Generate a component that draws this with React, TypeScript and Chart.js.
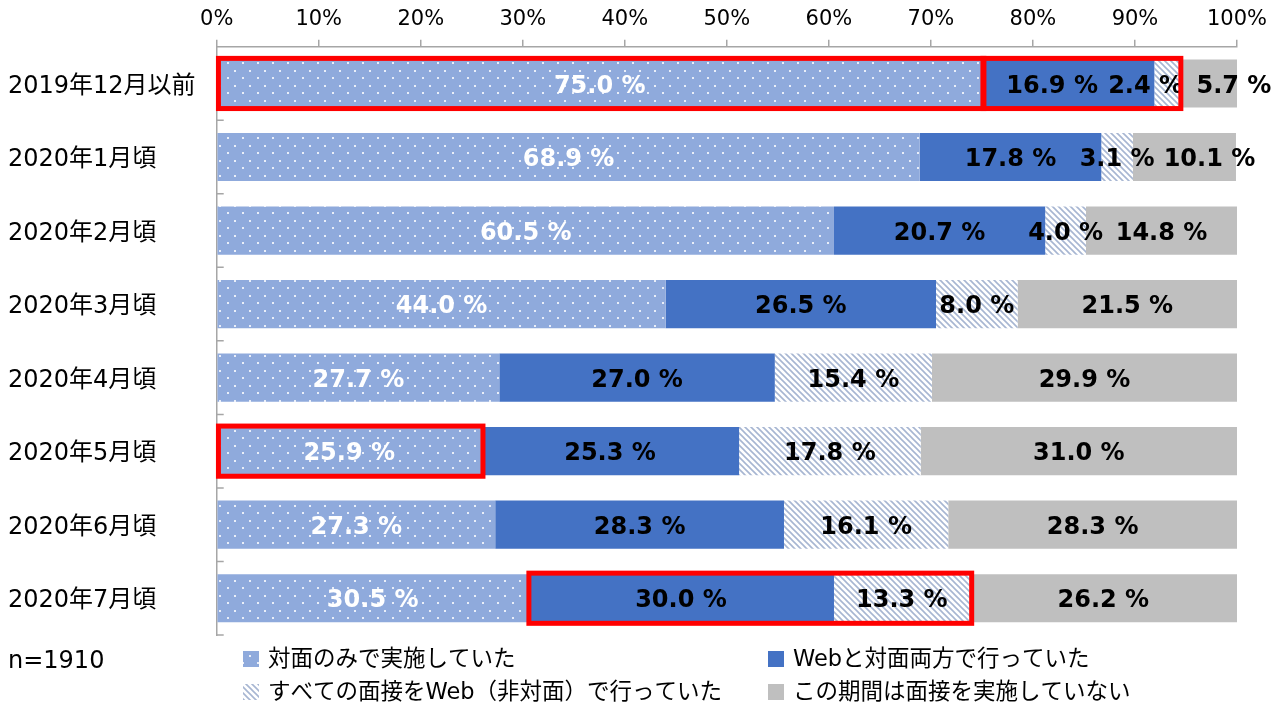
import React, { useEffect, useRef } from 'react';
import { Chart, registerables } from 'chart.js';

Chart.register(...registerables);

// ---- data ----
const categories = [
  '2019年12月以前',
  '2020年1月頃',
  '2020年2月頃',
  '2020年3月頃',
  '2020年4月頃',
  '2020年5月頃',
  '2020年6月頃',
  '2020年7月頃',
];
const faceOnly = [75.0, 68.9, 60.5, 44.0, 27.7, 25.9, 27.3, 30.5];
const webAndFace = [16.9, 17.8, 20.7, 26.5, 27.0, 25.3, 28.3, 30.0];
const webOnly = [2.4, 3.1, 4.0, 8.0, 15.4, 17.8, 16.1, 13.3];
const noInterview = [5.7, 10.1, 14.8, 21.5, 29.9, 31.0, 28.3, 26.2];
const seriesNames = [
  '対面のみで実施していた',
  'Webと対面両方で行っていた',
  'すべての面接をWeb（非対面）で行っていた',
  'この期間は面接を実施していない',
];
const xTickValues = [0, 10, 20, 30, 40, 50, 60, 70, 80, 90, 100];
const sampleNote = 'n=1910';
// highlighted (red box) groups: row index, first dataset, last dataset
const highlightRows = [0, 0, 5, 7];
const highlightFrom = [0, 1, 0, 1];
const highlightTo = [0, 2, 0, 2];

const FONT = '"DejaVu Sans", "Noto Sans CJK JP", sans-serif';
const LEGEND_FONT = '"DejaVu Sans", "Noto Sans CJK JP", sans-serif';

function makeDotPattern(): CanvasPattern | string {
  const c = document.createElement('canvas');
  c.width = 15;
  c.height = 15;
  const g = c.getContext('2d');
  if (!g) return '#8FAADC';
  g.fillStyle = '#8FAADC';
  g.fillRect(0, 0, 15, 15);
  g.fillStyle = 'rgba(255,255,255,0.8)';
  g.fillRect(2, 2, 2, 2);
  g.fillRect(9, 10, 2, 2);
  const p = g.createPattern(c, 'repeat');
  return p || '#8FAADC';
}

function makeHatchPattern(): CanvasPattern | string {
  const s = 6;
  const c = document.createElement('canvas');
  c.width = s;
  c.height = s;
  const g = c.getContext('2d');
  if (!g) return '#C9D3E6';
  g.fillStyle = '#FFFFFF';
  g.fillRect(0, 0, s, s);
  g.strokeStyle = '#A7B6D2';
  g.lineWidth = 1.6;
  g.beginPath();
  g.moveTo(-1, -1);
  g.lineTo(s + 1, s + 1);
  g.moveTo(-s / 2 - 1, s / 2 - 1);
  g.lineTo(s / 2 + 1, s * 1.5 + 1);
  g.moveTo(s / 2 - 1, -s / 2 - 1);
  g.lineTo(s * 1.5 + 1, s / 2 + 1);
  g.stroke();
  const p = g.createPattern(c, 'repeat');
  return p || '#C9D3E6';
}

// label offsets (px) for crowded labels: "dataset-row"
const labelShift: Record<string, number> = { '1-0': -16, '2-0': -21, '3-0': 26, '3-1': 25 };

const valueLabelPlugin = {
  id: 'valueLabels',
  afterDatasetsDraw(chart: any) {
    const ctx = chart.ctx;
    ctx.save();
    ctx.font = 'bold 24px ' + FONT;
    ctx.textAlign = 'center';
    ctx.textBaseline = 'middle';
    chart.data.datasets.forEach((ds: any, di: number) => {
      const meta = chart.getDatasetMeta(di);
      meta.data.forEach((bar: any, i: number) => {
        const v = ds.data[i];
        const cx = (bar.x + bar.base) / 2 + (labelShift[di + '-' + i] || 0);
        ctx.fillStyle = di === 0 ? '#FFFFFF' : '#000000';
        ctx.fillText(v.toFixed(1) + ' %', cx, bar.y + 3);
      });
    });
    ctx.restore();
  },
};

const highlightPlugin = {
  id: 'highlights',
  afterDraw(chart: any) {
    const ctx = chart.ctx;
    ctx.save();
    ctx.strokeStyle = '#FF0000';
    ctx.lineWidth = 5;
    highlightRows.forEach((row, k) => {
      const a = chart.getDatasetMeta(highlightFrom[k]).data[row];
      const b = chart.getDatasetMeta(highlightTo[k]).data[row];
      const x0 = Math.min(a.base, a.x);
      const x1 = Math.max(b.base, b.x);
      const h = a.height;
      ctx.strokeRect(x0 + 1, a.y - h / 2 - 1, x1 - x0 + 1, h + 2);
    });
    ctx.restore();
  },
};

const axisDecorPlugin = {
  id: 'axisDecor',
  afterDraw(chart: any) {
    const ctx = chart.ctx;
    const area = chart.chartArea;
    const n = categories.length;
    const step = (area.bottom - area.top) / n;
    ctx.save();
    ctx.strokeStyle = '#A6A6A6';
    ctx.lineWidth = 1.5;
    ctx.beginPath();
    for (let i = 1; i <= n; i++) {
      const y = area.top + step * i;
      ctx.moveTo(area.left, y);
      ctx.lineTo(area.left + 7, y);
    }
    ctx.stroke();
    ctx.restore();
  },
};

const legendPlugin = {
  id: 'customLegend',
  afterDraw(chart: any) {
    const ctx = chart.ctx;
    ctx.save();
    // sample size note
    ctx.font = '24px ' + FONT;
    ctx.fillStyle = '#000000';
    ctx.textAlign = 'left';
    ctx.textBaseline = 'middle';
    ctx.fillText(sampleNote, 8, 662);
    const colX = [243, 768];
    const rowY = [659, 692];
    chart.data.datasets.forEach((ds: any, i: number) => {
      const x = colX[i % 2];
      const y = rowY[Math.floor(i / 2)];
      ctx.fillStyle = ds.backgroundColor;
      ctx.fillRect(x, y - 8, 16, 16);
      ctx.fillStyle = '#000000';
      ctx.font = '22.5px ' + LEGEND_FONT;
      ctx.fillText(ds.label, x + 25, y + 1);
    });
    ctx.restore();
  },
};

export default function App() {
  const ref = useRef<HTMLCanvasElement | null>(null);

  useEffect(() => {
    document.body.style.margin = '0';
    document.body.style.overflow = 'hidden';
    const canvas = ref.current;
    if (!canvas) return;
    const dot = makeDotPattern();
    const hatch = makeHatchPattern();
    const chart = new Chart(canvas, {
      type: 'bar',
      data: {
        labels: categories,
        datasets: [
          { label: seriesNames[0], data: faceOnly, backgroundColor: dot as any },
          { label: seriesNames[1], data: webAndFace, backgroundColor: '#4472C4' },
          { label: seriesNames[2], data: webOnly, backgroundColor: hatch as any },
          { label: seriesNames[3], data: noInterview, backgroundColor: '#BFBFBF' },
        ],
      },
      options: {
        indexAxis: 'y',
        responsive: true,
        maintainAspectRatio: false,
        animation: false,
        layout: { padding: { left: 8, right: 44, top: 0, bottom: 74 } },
        datasets: {
          bar: { barPercentage: 0.655, categoryPercentage: 1, borderWidth: 0 },
        },
        plugins: {
          legend: { display: false },
          tooltip: { enabled: false },
        },
        scales: {
          x: {
            position: 'top',
            stacked: true,
            min: 0,
            max: 100,
            afterBuildTicks(scale: any) {
              scale.ticks = xTickValues.map((v) => ({ value: v }));
            },
            afterFit(scale: any) {
              scale.height = 46.7;
            },
            ticks: {
              font: { family: FONT, size: 21 },
              color: '#000000',
              padding: 8,
              maxRotation: 0,
              callback: (v: any) => v + '%',
            },
            grid: {
              display: true,
              drawOnChartArea: false,
              drawTicks: true,
              tickLength: 7,
              color: '#A6A6A6',
              lineWidth: 1.5,
            },
            border: { display: true, color: '#A6A6A6', width: 1.5 },
          },
          y: {
            stacked: true,
            afterFit(scale: any) {
              scale.width = 208.7;
            },
            ticks: {
              font: { family: FONT, size: 24 },
              color: '#000000',
              crossAlign: 'far',
              labelOffset: 3,
            },
            grid: { display: false },
            border: { display: true, color: '#A6A6A6', width: 1.5 },
          },
        },
      },
      plugins: [valueLabelPlugin, axisDecorPlugin, highlightPlugin, legendPlugin],
    } as any);
    return () => chart.destroy();
  }, []);

  return (
    <div style={{ width: 1281, height: 709, position: 'relative' }}>
      <canvas ref={ref} />
    </div>
  );
}
